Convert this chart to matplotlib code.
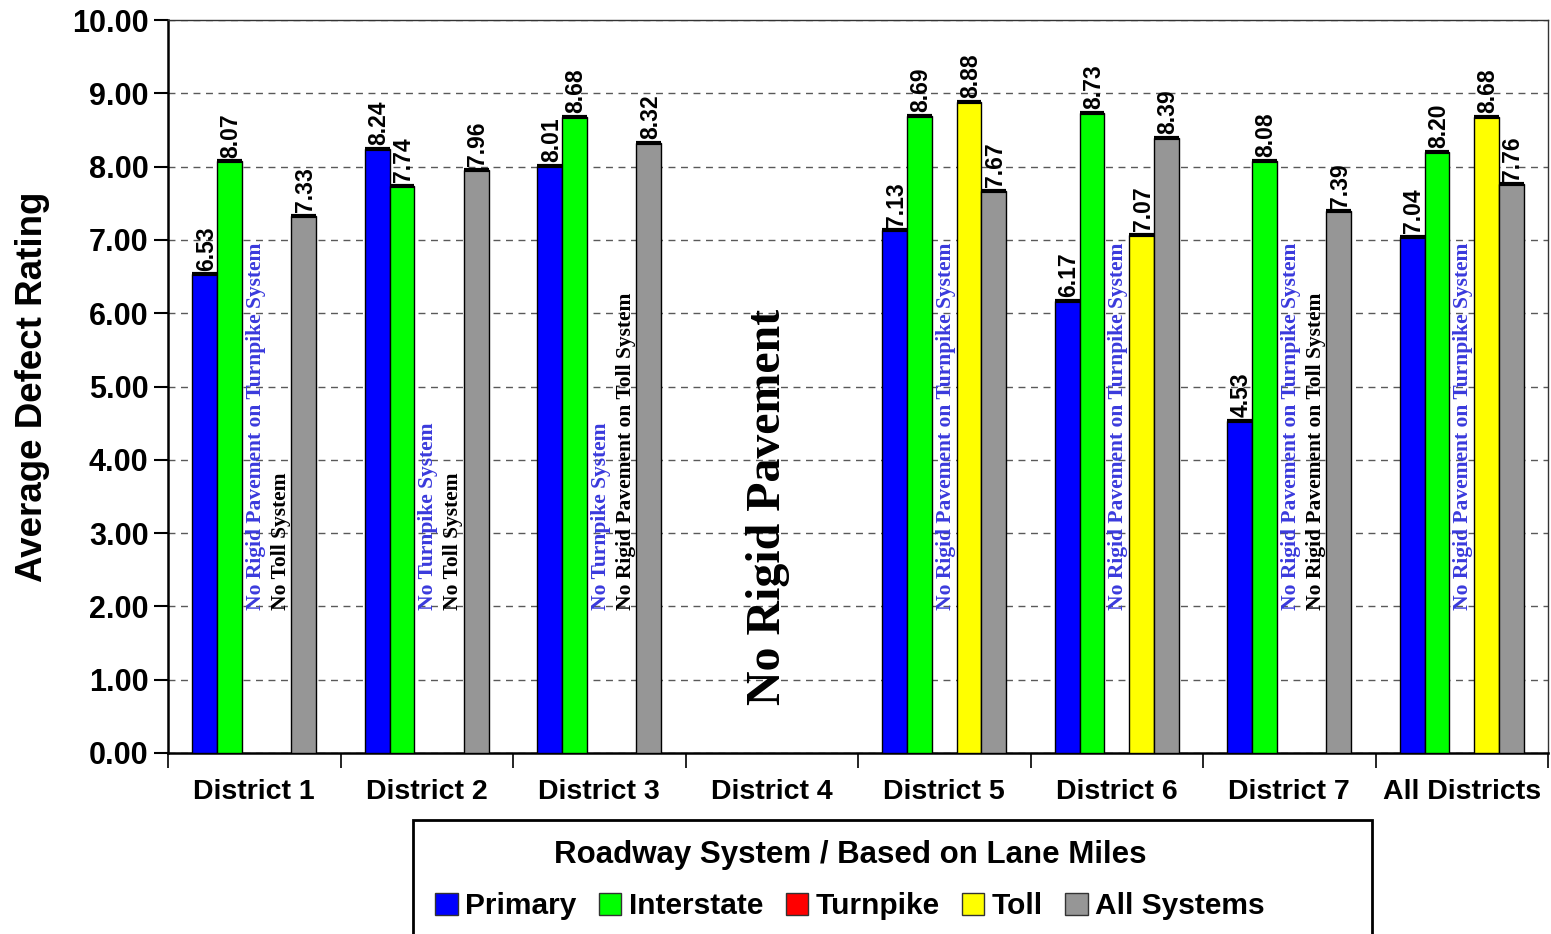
import numpy as np
import matplotlib.pyplot as plt
from matplotlib.patches import Rectangle, Patch

# data
districts = ["District 1", "District 2", "District 3", "District 4",
             "District 5", "District 6", "District 7", "All Districts"]
series = ["Primary", "Interstate", "Turnpike", "Toll", "All Systems"]
colors = ["#0000ff", "#00ff00", "#ff0000", "#ffff00", "#969696"]
nan = np.nan
primary = [6.53, 8.24, 8.01, nan, 7.13, 6.17, 4.53, 7.04]
interstate = [8.07, 7.74, 8.68, nan, 8.69, 8.73, 8.08, 8.20]
turnpike = [nan] * 8
toll = [nan, nan, nan, nan, 8.88, 7.07, nan, 8.68]
all_systems = [7.33, 7.96, 8.32, nan, 7.67, 8.39, 7.39, 7.76]
values = [primary, interstate, turnpike, toll, all_systems]

# notes: (district index, series index, text, colour)
notes = [
    (0, 2, "No Rigid Pavement on Turnpike System", "#3a3adc"),
    (0, 3, "No Toll System", "black"),
    (1, 2, "No Turnpike System", "#3a3adc"),
    (1, 3, "No Toll System", "black"),
    (2, 2, "No Turnpike System", "#3a3adc"),
    (2, 3, "No Rigid Pavement on Toll System", "black"),
    (4, 2, "No Rigid Pavement on Turnpike System", "#3a3adc"),
    (5, 2, "No Rigid Pavement on Turnpike System", "#3a3adc"),
    (6, 2, "No Rigid Pavement on Turnpike System", "#3a3adc"),
    (6, 3, "No Rigid Pavement on Toll System", "black"),
    (7, 2, "No Rigid Pavement on Turnpike System", "#3a3adc"),
]

W, H = 1551, 934
fig = plt.figure(figsize=(W / 100, H / 100), dpi=100)
ax = fig.add_axes([168 / W, 1 - 753 / H, (1548 - 168) / W, (753 - 20) / H])

sans = "Liberation Sans"
serif = "Liberation Serif"

x = np.arange(len(districts))
bw = 0.1435
for i, (vals, col) in enumerate(zip(values, colors)):
    pos = x + (i - 2) * bw
    bars = ax.bar(pos, vals, bw, color=col, edgecolor="black", linewidth=1.0, zorder=3)
    for b, v in zip(bars, vals):
        if np.isnan(v):
            continue
        ax.plot([b.get_x(), b.get_x() + b.get_width()], [v, v], color="black",
                lw=3, solid_capstyle="butt", zorder=4)
        ax.text(b.get_x() + b.get_width() / 2 + 0.01, v + 0.05, f"{v:.2f}",
                rotation=90, ha="center", va="bottom", fontsize=16.5,
                fontweight="bold", family=sans, zorder=5)

for d, s, txt, col in notes:
    ax.text(x[d] + (s - 2) * bw + 0.01, 1.95, txt, rotation=90, ha="center",
            va="bottom", fontsize=15.5, fontweight="bold", family=serif,
            color=col, zorder=5)

ax.text(x[3] - 0.02, 0.65, "No Rigid Pavement", rotation=90, ha="center",
        va="bottom", fontsize=34.5, fontweight="bold", family=serif, zorder=5)

ax.set_xlim(-0.5, len(districts) - 0.5)
ax.set_ylim(0, 10)
ax.set_yticks(np.arange(0, 11, 1))
ax.set_yticklabels([f"{v:.2f}" for v in np.arange(0, 11, 1)], fontsize=22,
                   fontweight="bold", family=sans)
ax.set_xticks(x)
ax.set_xticklabels(districts, fontsize=20.5, fontweight="bold", family=sans)
ax.set_xticks(np.arange(-0.5, len(districts), 1), minor=True)
ax.tick_params(axis="x", which="major", length=0, pad=19)
ax.tick_params(axis="x", which="minor", length=11, width=1.2, direction="out")
ax.tick_params(axis="y", length=10, width=1.5, pad=4)
ax.set_ylabel("Average Defect Rating", fontsize=26.5, fontweight="bold",
              family=sans, labelpad=16)

ax.yaxis.grid(True, linestyle=(0, (5, 4)), color="0.35", lw=1.0, zorder=0)
for side in ["left", "bottom"]:
    ax.spines[side].set_linewidth(1.8)
for side in ["top", "right"]:
    ax.spines[side].set_linewidth(1.0)
    ax.spines[side].set_color("0.2")

# legend frame (runs off the bottom edge)
fig.patches.append(Rectangle((413 / W, -0.05), (1372 - 413) / W, 1 - 820 / H + 0.05,
                             transform=fig.transFigure, fill=False,
                             edgecolor="black", lw=2))
handles = [Patch(facecolor=c, edgecolor="0.2", lw=1) for c in colors]
leg = fig.legend(handles, series, loc="center", bbox_to_anchor=(850 / W, 1 - 880 / H),
                 ncol=5, frameon=False, handlelength=0.75, handleheight=0.75,
                 handletextpad=0.25, columnspacing=0.75,
                 prop={"family": sans, "weight": "bold", "size": 21.5},
                 title="Roadway System / Based on Lane Miles",
                 title_fontproperties={"family": sans, "weight": "bold", "size": 22.5})
leg._legend_box.sep = 16

fig.savefig("out.png", dpi=100)
